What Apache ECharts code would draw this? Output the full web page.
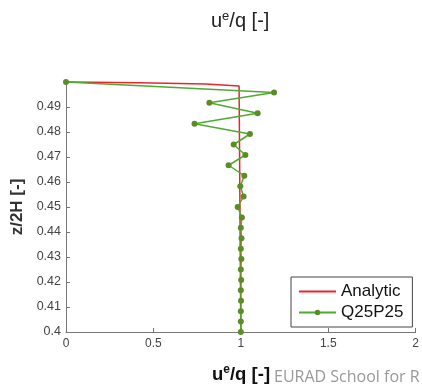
<!DOCTYPE html>
<html>
<head>
<meta charset="utf-8">
<script src="https://cdn.jsdelivr.net/npm/echarts@6/dist/echarts.min.js"></script>
<style>html,body{margin:0;padding:0;background:#fff}#c{width:422px;height:388px}</style>
</head>
<body>
<div id="c"></div>
<script>
// Analytic solution (u^e/q, z/2H)
var analyticU = [0, 0.42, 0.8, 0.99, 1.0, 1.0];
var analyticZ = [0.5, 0.4997, 0.4992, 0.4984, 0.4982, 0.4];
// Q25P25 numerical solution
var numU = [0, 1.19, 0.82, 1.096, 0.735, 1.052, 0.959, 1.026, 0.93, 1.02, 0.997, 1.016, 0.982,
            1.006, 1.0, 1.004, 1.0, 1.003, 1.0, 1.002, 1.0, 1.001, 1.0, 1.0, 1.0];
var numZ = [0.5, 0.4958, 0.4917, 0.4875, 0.4833, 0.4792, 0.475, 0.4708, 0.4667, 0.4625, 0.4583, 0.4542,
            0.45, 0.4458, 0.4417, 0.4375, 0.4333, 0.4292, 0.425, 0.4208, 0.4167, 0.4125, 0.4083, 0.4042, 0.4];
var xTicks = ['0', '0.5', '1', '1.5', '2'];
var seriesNames = ['Analytic', 'Q25P25'];

function pairs(a, b) { return a.map(function (v, i) { return [v, b[i]]; }); }

var chart = echarts.init(document.getElementById('c'), null, {renderer: 'canvas'});
var font = 'Liberation Sans, Arial, sans-serif';
chart.setOption({
  animation: false,
  backgroundColor: '#fff',
  grid: {left: 66, right: 5, top: 82, bottom: 56, containLabel: false},
  xAxis: {
    type: 'value', min: 0, max: 2, interval: 0.5,
    axisLine: {show: true, lineStyle: {color: '#777', width: 1}},
    axisTick: {show: true, inside: true, length: 4, lineStyle: {color: '#777'}},
    splitLine: {show: false},
    axisLabel: {color: '#444', fontSize: 12, fontFamily: font, margin: 6,
      formatter: function (v) { return xTicks[Math.round(v / 0.5)]; }}
  },
  yAxis: {
    type: 'value', min: 0.4, max: 0.5, interval: 0.01,
    name: 'z/2H [-]', nameLocation: 'middle', nameGap: 38, nameRotate: 90,
    nameTextStyle: {fontSize: 17, fontWeight: 'bold', color: '#333', fontFamily: font},
    axisLine: {show: true, lineStyle: {color: '#777', width: 1}},
    axisTick: {show: true, inside: true, length: 4, lineStyle: {color: '#777'}},
    splitLine: {show: false},
    axisLabel: {color: '#444', fontSize: 12.5, fontFamily: font, margin: 5, showMaxLabel: false,
      formatter: function (v) { return String(+v.toFixed(2)); }}
  },
  legend: {
    orient: 'vertical', left: 291, top: 277,
    data: [{name: seriesNames[0], itemStyle: {opacity: 0}}, {name: seriesNames[1]}],
    itemWidth: 37, itemHeight: 7, itemGap: 4,
    padding: [6, 9, 6, 7],
    borderColor: '#444', borderWidth: 1, backgroundColor: '#fff',
    textStyle: {fontSize: 17, color: '#111', fontFamily: font, lineHeight: 17, padding: [0, 0, 0, 0]}
  },
  series: [
    {name: seriesNames[0], type: 'line', data: pairs(analyticU, analyticZ), showSymbol: false, symbol: 'none',
     lineStyle: {color: '#e8262c', width: 1.5}, itemStyle: {color: '#e8262c'}, clip: false, z: 2},
    {name: seriesNames[1], type: 'line', data: pairs(numU, numZ), symbol: 'circle', symbolSize: 6,
     lineStyle: {color: '#4faa30', width: 1.5}, itemStyle: {color: '#5d8c26'}, clip: false, z: 3}
  ],
  graphic: [
    {type: 'text', left: 211, top: 10, style: {
      text: '{a|u}{s|e}{a|/q [-]}',
      rich: {a: {fontSize: 20, fill: '#222', fontFamily: font, lineHeight: 23},
             s: {fontSize: 13, fill: '#222', fontFamily: font, padding: [0, 0, 10, 0]}}}},
    {type: 'text', left: 212, top: 364, style: {
      text: '{a|u}{s|e}{a|/q [-]}',
      rich: {a: {fontSize: 18.5, fill: '#111', fontFamily: font, fontWeight: 'bold', lineHeight: 20},
             s: {fontSize: 12, fill: '#111', fontFamily: font, fontWeight: 'bold', padding: [0, 0, 10, 0]}}}},
    {type: 'text', left: 274, top: 369, style: {
      text: 'EURAD School for R', fontSize: 16, fill: '#999', fontFamily: 'Open Sans, sans-serif'}}
  ]
});
</script>
</body>
</html>
